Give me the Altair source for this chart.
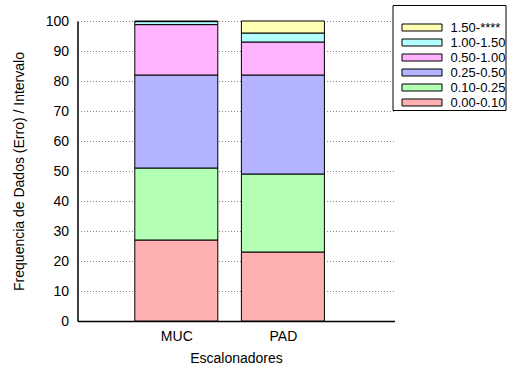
import altair as alt
import pandas as pd

categories = ["MUC", "PAD"]
intervals = ["0.00-0.10", "0.10-0.25", "0.25-0.50", "0.50-1.00", "1.00-1.50", "1.50-****"]
muc_values = [27, 24, 31, 16.8, 1.0, 0.2]
pad_values = [23, 26, 33, 11, 3, 4]
colors = ["#ffb0b0", "#b3ffb3", "#b3b3ff", "#ffb3ff", "#b3ffff", "#ffffb3"]

rows = []
for ci, (cat, vals) in enumerate(zip(categories, [muc_values, pad_values])):
    for ii, (iv, v) in enumerate(zip(intervals, vals)):
        rows.append({"pos": ci, "cat": cat, "interval": iv, "order": ii, "value": v})
df = pd.DataFrame(rows)

FONT = "Liberation Sans"
label_expr = "datum.value == 0 ? '" + categories[0] + "' : '" + categories[1] + "'"

chart = alt.Chart(df).mark_bar(size=83, stroke="black", strokeWidth=1).encode(
    x=alt.X("pos:Q",
            scale=alt.Scale(domain=[-0.88, 2.0], nice=False, zero=False),
            axis=alt.Axis(values=[0, 1], labelExpr=label_expr, title="Escalonadores",
                          grid=False, ticks=False, domainColor="black", domainWidth=1.5,
                          labelPadding=8, titlePadding=8, labelFontSize=14, titleFontSize=14,
                          labelFont=FONT, titleFont=FONT, titleFontWeight="normal",
                          labelColor="black", titleColor="black")),
    y=alt.Y("value:Q", stack="zero",
            scale=alt.Scale(domain=[0, 100], nice=False),
            axis=alt.Axis(values=list(range(0, 101, 10)), title="Frequencia de Dados (Erro) / Intervalo",
                          grid=True, gridDash=[1, 2], gridColor="#888888", gridWidth=1,
                          ticks=False, domainColor="black", domainWidth=1.5,
                          labelPadding=9, titlePadding=19, labelFontSize=14, titleFontSize=14,
                          labelFont=FONT, titleFont=FONT, titleFontWeight="normal",
                          labelColor="black", titleColor="black")),
    color=alt.Color("interval:N",
                    scale=alt.Scale(domain=intervals[::-1], range=colors[::-1]),
                    legend=alt.Legend(orient="none", legendX=315, legendY=-16,
                                      title=" ", titleFontSize=10, titlePadding=5,
                                      padding=0, symbolType="M-1,-0.175H1V0.175H-1Z",
                                      symbolSize=1600, symbolStrokeColor="black",
                                      symbolStrokeWidth=1, symbolOffset=9, labelOffset=8,
                                      clipHeight=15, rowPadding=0,
                                      strokeColor="black", fillColor="white",
                                      labelFontSize=13, labelFont=FONT, labelColor="black",
                                      labelExpr="datum.label + '                              '")),
    order=alt.Order("order:Q", sort="ascending"),
).properties(
    width=317, height=300,
    autosize=alt.AutoSizeParams(type="none"),
    padding={"left": 77.5, "top": 21, "right": 136.5, "bottom": 51},
).configure_view(strokeWidth=0)

chart.save("out.html", embed_options={"renderer": "svg", "actions": False})
